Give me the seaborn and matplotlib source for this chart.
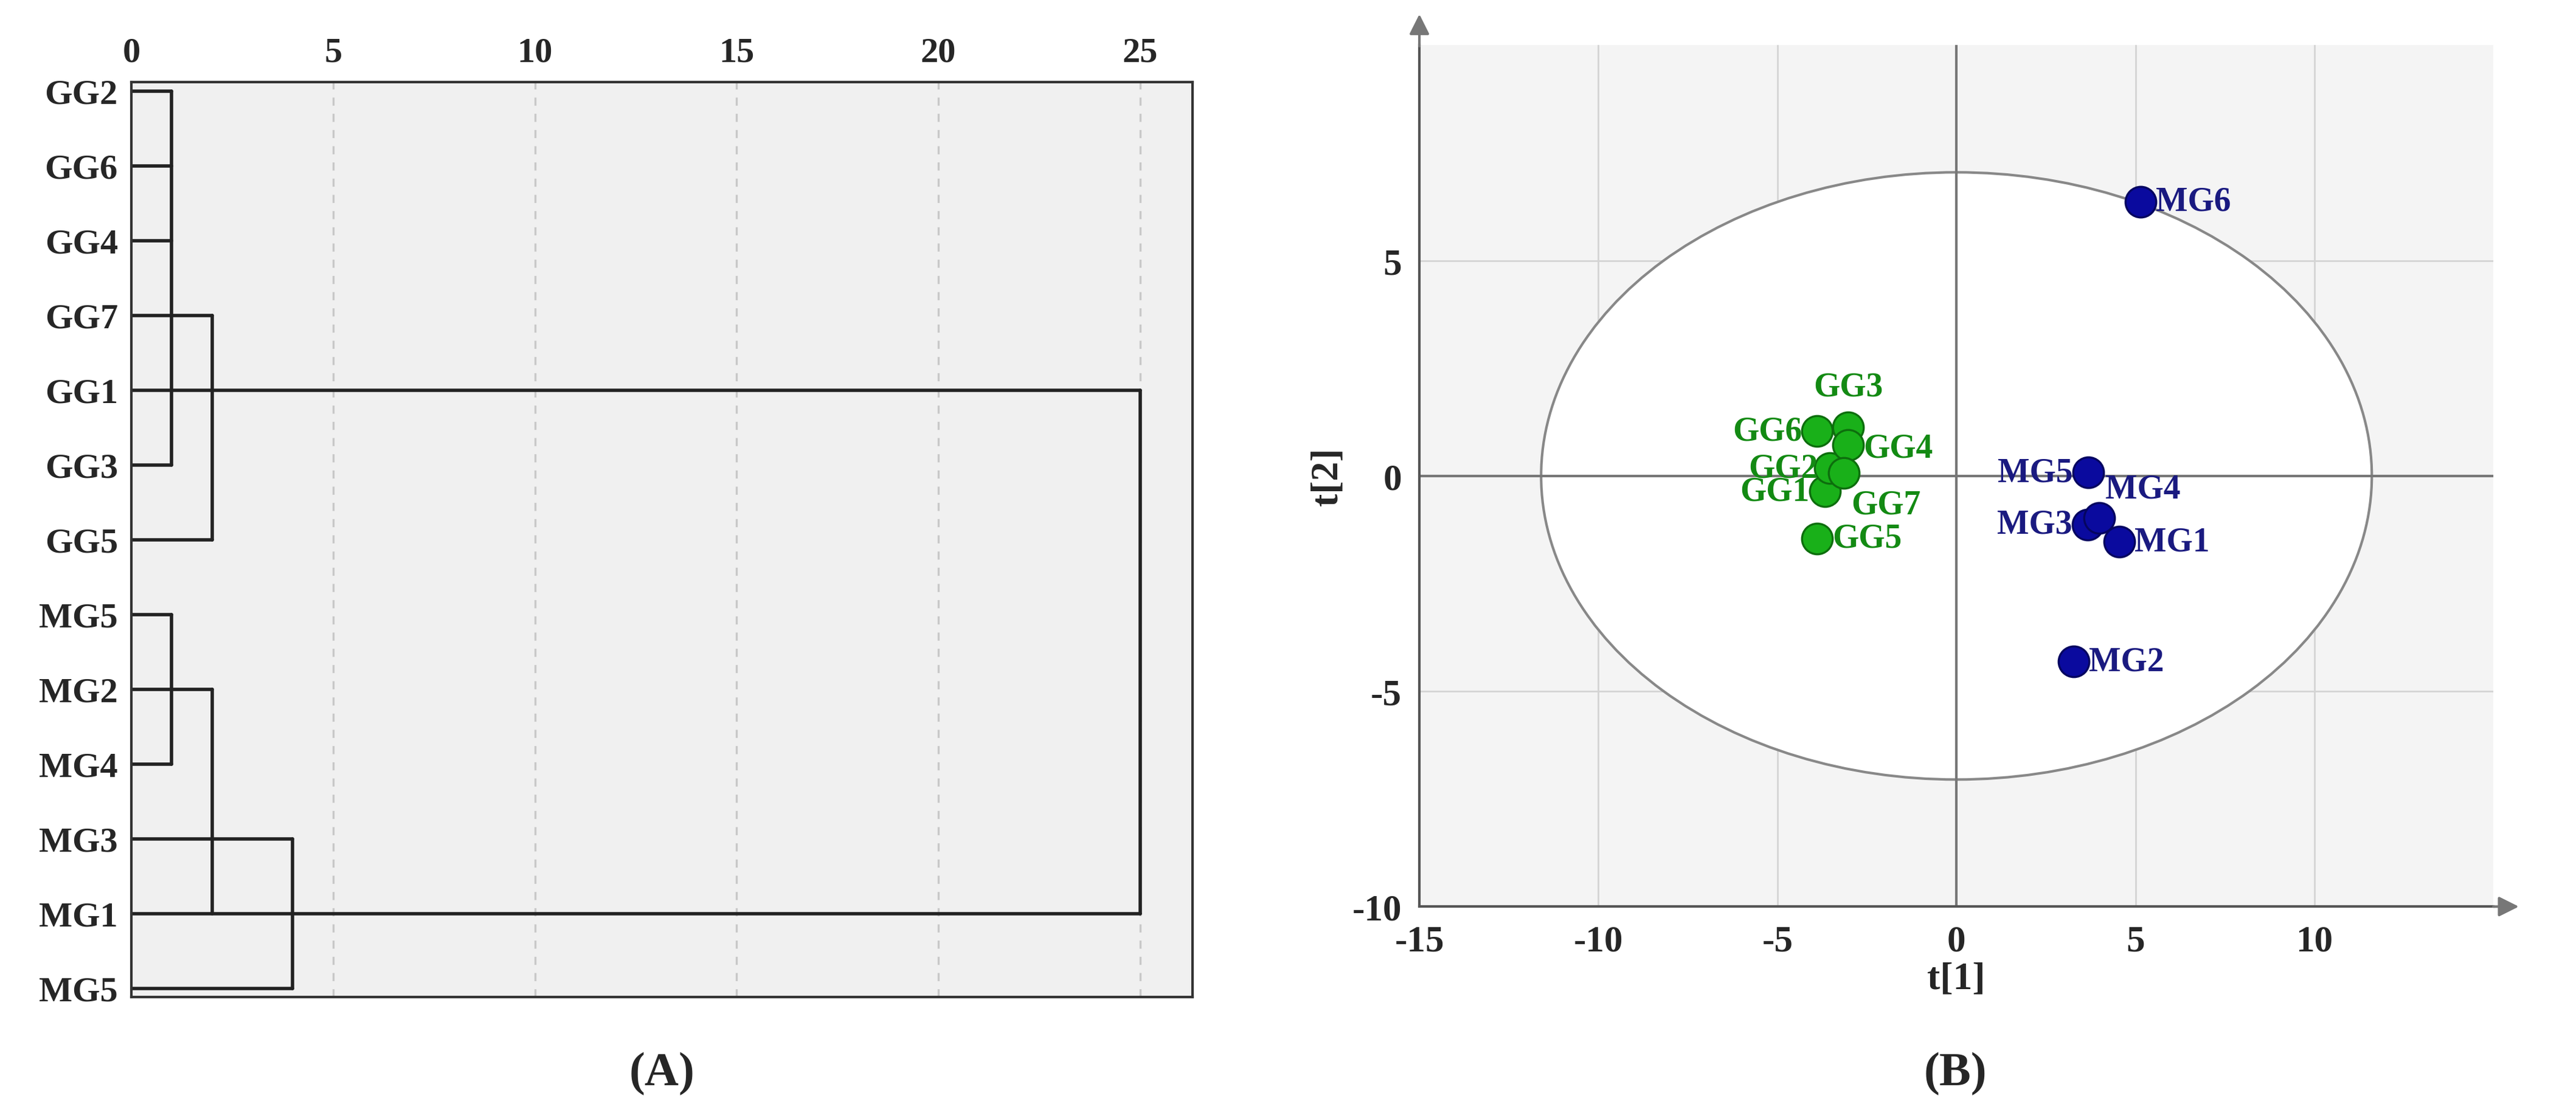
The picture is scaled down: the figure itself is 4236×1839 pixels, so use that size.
import matplotlib.pyplot as plt
import matplotlib.patches as mpatches
import numpy as np
import pandas as pd
import seaborn as sns

# --- dendrogram (A) ---
leaves = ["GG2", "GG6", "GG4", "GG7", "GG1", "GG3", "GG5",
          "MG5", "MG2", "MG4", "MG3", "MG1", "MG5"]
leaf_ends = [1, 1, 1, 2, 25, 1, 2, 1, 2, 1, 4, 25, 4]
# (height, first row, last row)
joins = [(1, 0, 5), (2, 3, 6), (1, 7, 9), (2, 8, 11), (4, 10, 12), (25, 4, 11)]

# --- score plot (B) ---
samples = ["GG1", "GG2", "GG3", "GG4", "GG5", "GG6", "GG7",
           "MG1", "MG2", "MG3", "MG4", "MG5", "MG6"]
t1 = [-3.68, -3.53, -3.02, -3.02, -3.89, -3.89, -3.15,
      4.55, 3.28, 3.66, 3.98, 3.68, 5.15]
t2 = [-0.36, 0.18, 1.13, 0.72, -1.45, 1.04, 0.07,
      -1.53, -4.31, -1.13, -0.97, 0.08, 6.37]
group = ["GG"] * 7 + ["MG"] * 6
# label placement: (dx, dy in points, horizontal alignment)
label_pos = {"GG1": (-9, 0, "right"), "GG2": (-7, 0, "right"), "GG3": (0, 24, "center"),
             "GG4": (9, -2, "left"), "GG5": (9, 0, "left"), "GG6": (-9, 0, "right"),
             "GG7": (25, -19, "center"),
             "MG1": (9, 0, "left"), "MG2": (9, 0, "left"), "MG3": (-9, 0, "right"),
             "MG4": (26, 17, "center"), "MG5": (-9, 0, "right"), "MG6": (9, 0, "left")}
ellipse_a, ellipse_b = 11.6, 7.05

sns.set_style("white")
plt.rcParams["font.family"] = ["Liberation Serif", "DejaVu Serif"]
plt.rcParams["font.weight"] = "bold"
plt.rcParams["font.size"] = 21
plt.rcParams["axes.unicode_minus"] = False

fig = plt.figure(figsize=(21.18, 9.2), dpi=200)
axA = fig.add_axes([0.051, 0.108, 0.412, 0.818])
axB = fig.add_axes([0.551, 0.189, 0.417, 0.77])

# A
axA.set_facecolor("#f0f0f0")
for x in [5, 10, 15, 20, 25]:
    axA.axvline(x, color="#c8c8c8", ls=(0, (4, 4)), lw=1.2, zorder=0)
for i, end in enumerate(leaf_ends):
    axA.plot([0, end], [i, i], color="#222222", lw=2)
for h, r0, r1 in joins:
    axA.plot([h, h], [r0, r1], color="#222222", lw=2)
axA.set_xlim(0, 26.3)
axA.set_ylim(12.12, -0.12)
axA.set_yticks(range(len(leaves)))
axA.set_yticklabels(leaves)
axA.set_xticks([0, 5, 10, 15, 20, 25])
axA.xaxis.tick_top()
axA.tick_params(length=0, labelsize=21, pad=8)
for s in axA.spines.values():
    s.set_color("#333333")
    s.set_linewidth(1.5)
fig.text(0.257, 0.03, "(A)", ha="center", fontsize=28, fontweight="bold")

# B
df = pd.DataFrame({"sample": samples, "t1": t1, "t2": t2, "group": group})
axB.set_facecolor("#f4f4f4")
axB.add_patch(mpatches.Ellipse((0, 0), 2 * ellipse_a, 2 * ellipse_b, facecolor="white",
                               edgecolor="#888888", lw=1.5, zorder=1))
for v in [-10, -5, 5, 10]:
    axB.axvline(v, color="#d4d4d4", lw=1, zorder=0.5)
for v in [-5, 5]:
    axB.axhline(v, color="#d4d4d4", lw=1, zorder=0.5)
axB.axvline(0, color="#777777", lw=1.5, zorder=2)
axB.axhline(0, color="#777777", lw=1.5, zorder=2)
pal = {"GG": "#19b019", "MG": "#0a0a9e"}
edge = {"GG": "#0d6e0d", "MG": "#050560"}
txt = {"GG": "#138a13", "MG": "#1a1a80"}
for g in ["GG", "MG"]:
    sns.scatterplot(data=df[df.group == g], x="t1", y="t2", color=pal[g], s=330,
                    edgecolor=edge[g], linewidth=1.2, ax=axB, zorder=3, legend=False)
for _, r in df.iterrows():
    dx, dy, ha = label_pos[r["sample"]]
    axB.annotate(r["sample"], (r["t1"], r["t2"]), xytext=(dx, dy),
                 textcoords="offset points", ha=ha, va="center",
                 color=txt[r["group"]], fontsize=20, fontweight="bold", zorder=4)
axB.set_xlim(-15, 15)
axB.set_ylim(-10, 10)
axB.set_xticks([-15, -10, -5, 0, 5, 10])
axB.set_yticks([-10, -5, 0, 5])
axB.set_xticks(np.arange(-12.5, 15, 5), minor=True)
axB.set_yticks([-7.5, -2.5, 2.5, 7.5], minor=True)
axB.tick_params(which="major", length=7, color="#555555", labelsize=22, direction="out")
axB.tick_params(which="minor", length=4, color="#555555", direction="out")
axB.set_xlabel("t[1]", fontsize=23, fontweight="bold", labelpad=2)
axB.set_ylabel("t[2]", fontsize=23, fontweight="bold")
for s in ["top", "right"]:
    axB.spines[s].set_visible(False)
for s in ["left", "bottom"]:
    axB.spines[s].set_color("#555555")
    axB.spines[s].set_linewidth(1.5)
axB.annotate("", xy=(15.8, -10), xytext=(14.9, -10), xycoords="data",
             arrowprops=dict(arrowstyle="-|>", color="#777777", lw=1.5, mutation_scale=25),
             annotation_clip=False)
axB.annotate("", xy=(-15, 10.8), xytext=(-15, 9.9), xycoords="data",
             arrowprops=dict(arrowstyle="-|>", color="#777777", lw=1.5, mutation_scale=25),
             annotation_clip=False)
fig.text(0.759, 0.03, "(B)", ha="center", fontsize=28, fontweight="bold")

fig.savefig("out.png", dpi=200)
